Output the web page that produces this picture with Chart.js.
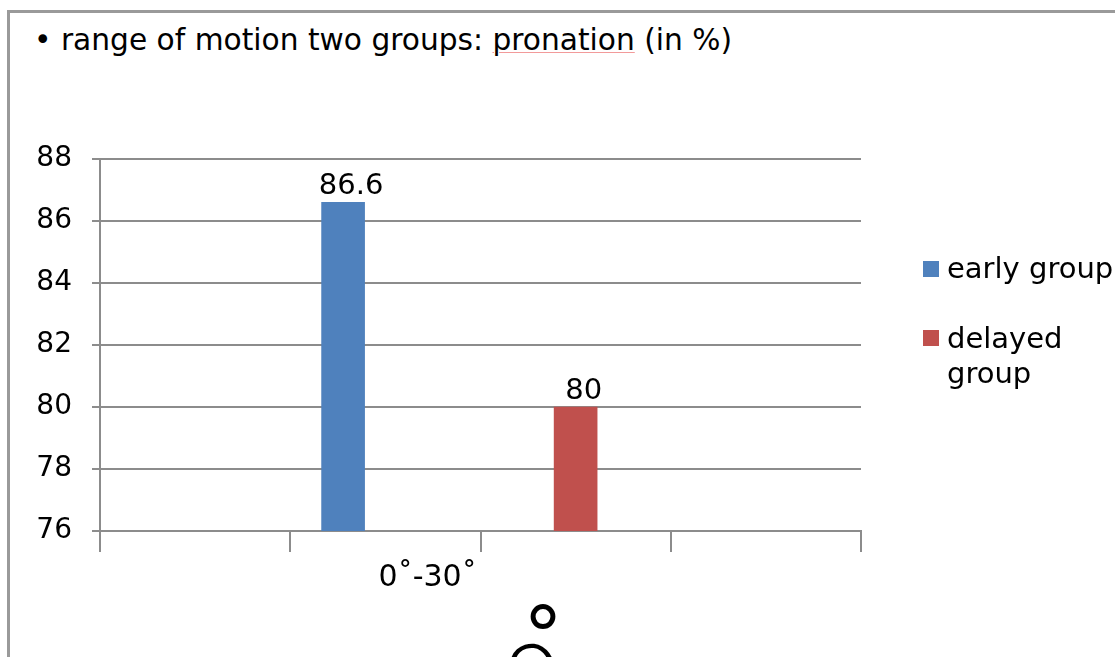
<!DOCTYPE html>
<html>
<head>
<meta charset="utf-8">
<script src="https://cdn.jsdelivr.net/npm/chart.js@4/dist/chart.umd.min.js"></script>
<style>
  html, body { margin: 0; padding: 0; background: #fff; overflow: hidden; }
  body { width: 1115px; height: 657px; position: relative; }
  #frame { position: absolute; left: 7px; top: 10px; width: 2000px; height: 2000px;
           border: 3px solid #9a9a9a; box-sizing: border-box; }
  #title { position: absolute; left: 34px; top: 24px; white-space: nowrap; color: #000;
           font: 31px/31px "DejaVu Sans", sans-serif;
           transform-origin: 0 0; }
  #title .spell { text-decoration: underline; text-decoration-color: #f29a9a;
                  text-decoration-thickness: 1px; text-underline-offset: 2px; }
  #chart { position: absolute; left: 0; top: 0; }
  .swatch { position: absolute; width: 16px; height: 16px; }
  .legend-text { position: absolute; left: 947px; width: 168px; color: #000;
                 font: 29px/35px "DejaVu Sans", sans-serif; }
  .stray { position: absolute; color: #000; line-height: 1; }
</style>
</head>
<body>
<div id="frame"></div>
<div id="title">• range of motion two groups: <span class="spell">pronation</span> (in %)</div>
<canvas id="chart" width="1115" height="657"></canvas>
<div id="legend"></div>
<span class="stray" style="left:523px; top:597px; font-size:80px; font-family:'DejaVu Sans';">°</span>
<span class="stray" style="left:495px; top:636px; font-size:80px; font-family:Roboto; font-weight:300; transform: rotate(-18deg); transform-origin: 50% 0;">O</span>

<script>
// Chart values
const categories   = ['0˚-30˚'];
const seriesNames  = ['early group', 'delayed group'];
const earlyGroup   = [86.6];
const delayedGroup = [80];
const yTicks       = [76, 78, 80, 82, 84, 86, 88];

// Styling
const COLORS    = ['#4f81bd', '#c0504d'];
const GRID      = '#8c8c8c';
const TEXT_FONT = 'DejaVu Sans';

// The category axis is split into narrow slots so the bars and the label
// sit where they belong between the four tick divisions.
const SLOTS = 36;
const SLOTS_PER_DIVISION = 9;
const LABEL_SLOT = 15;
const EARLY_SLOT = 11;
const DELAYED_SLOT = 22;

const slotLabels = Array.from({ length: SLOTS }, (_, i) => (i === LABEL_SLOT ? categories[0] : ''));
function placeInSlot(values, slot) {
  const row = new Array(SLOTS).fill(null);
  row[slot] = values[0];
  return row;
}

// Value labels above each bar
const valueLabels = {
  id: 'valueLabels',
  afterDatasetsDraw(chart) {
    const ctx = chart.ctx;
    ctx.save();
    ctx.font = '29px "' + TEXT_FONT + '"';
    ctx.fillStyle = '#000';
    ctx.textAlign = 'center';
    ctx.textBaseline = 'alphabetic';
    chart.data.datasets.forEach((ds, di) => {
      chart.getDatasetMeta(di).data.forEach((bar, i) => {
        const v = ds.data[i];
        if (v === null || v === undefined) return;
        ctx.fillText(String(v), bar.x + 8, bar.y - 8);
      });
    });
    ctx.restore();
  }
};

new Chart(document.getElementById('chart'), {
  type: 'bar',
  data: {
    labels: slotLabels,
    datasets: [
      { label: seriesNames[0], data: placeInSlot(earlyGroup, EARLY_SLOT),     backgroundColor: COLORS[0] },
      { label: seriesNames[1], data: placeInSlot(delayedGroup, DELAYED_SLOT), backgroundColor: COLORS[1] }
    ]
  },
  options: {
    responsive: false,
    devicePixelRatio: 1,
    animation: false,
    datasets: { bar: { grouped: false, skipNull: true, barThickness: 43 } },
    layout: { padding: { top: 159, right: 254, left: 0, bottom: 0 } },
    plugins: { legend: { display: false }, title: { display: false }, tooltip: { enabled: false } },
    scales: {
      x: {
        type: 'category',
        offset: true,
        grid: {
          offset: true,
          drawOnChartArea: false,
          drawTicks: true,
          tickLength: 21,
          lineWidth: 2,
          color: (c) => (c.index === undefined || c.index % SLOTS_PER_DIVISION === 0) ? GRID : 'rgba(0,0,0,0)'
        },
        border: { display: true, color: GRID, width: 2 },
        ticks: {
          autoSkip: false, maxRotation: 0, minRotation: 0, padding: 8, color: '#000',
          font: { family: TEXT_FONT, size: 30 }
        },
        afterFit: (s) => { s.height = 126; }
      },
      y: {
        min: yTicks[0],
        max: yTicks[yTicks.length - 1],
        afterBuildTicks: (s) => { s.ticks = yTicks.map((v) => ({ value: v })); },
        grid: { color: GRID, lineWidth: 2, tickLength: 8, drawTicks: true },
        border: { display: true, color: GRID, width: 2 },
        ticks: { padding: 20, color: '#000', font: { family: TEXT_FONT, size: 28 } },
        afterFit: (s) => { s.width = 100; }
      }
    }
  },
  plugins: [valueLabels]
});

// Legend at the right of the plot
const legend = document.getElementById('legend');
const legendTops = [251, 321];
const swatchTops = [261, 330];
seriesNames.forEach((name, i) => {
  const sw = document.createElement('div');
  sw.className = 'swatch';
  sw.style.left = '923px';
  sw.style.top = swatchTops[i] + 'px';
  sw.style.background = COLORS[i];
  legend.appendChild(sw);
  const tx = document.createElement('div');
  tx.className = 'legend-text';
  tx.style.top = legendTops[i] + 'px';
  tx.textContent = name;
  legend.appendChild(tx);
});

// Fit the title line to its width
const title = document.getElementById('title');
const w = title.getBoundingClientRect().width;
title.style.transform = 'scaleX(' + (698 / w) + ')';
</script>
</body>
</html>
